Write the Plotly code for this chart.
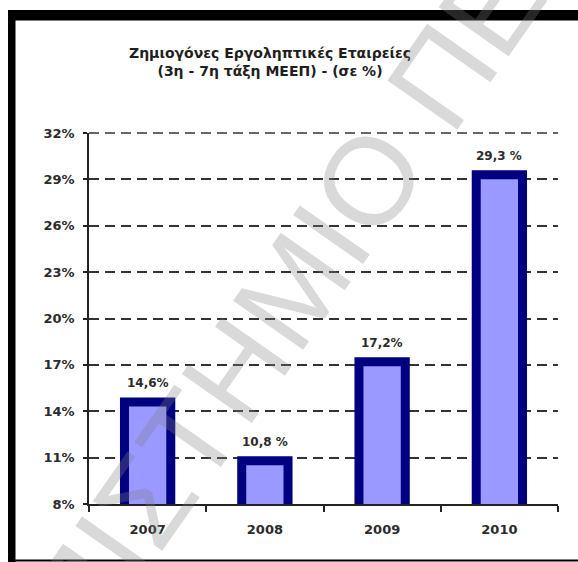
import plotly.graph_objects as go

# Data
years = ["2007", "2008", "2009", "2010"]
loss_pct = [14.6, 10.8, 17.2, 29.3]
value_labels = ["14,6%", "10,8 %", "17,2%", "29,3 %"]
y_ticks = [8, 11, 14, 17, 20, 23, 26, 29, 32]
y_tick_text = [f"{v}%" for v in y_ticks]

title_lines = ["Ζημιογόνες Εργοληπτικές Εταιρείες", "(3η - 7η τάξη ΜΕΕΠ) - (σε %)"]
watermark = "ΠΑΝΕΠΙΣΤΗΜΙΟ ΠΕΙΡΑΙΩΣ"

W, H = 578, 562
L, R, T, B = 89, 20, 133, 58
PW, PH = W - L - R, H - T - B
Y_RANGE = [y_ticks[0], y_ticks[-1]]


def px(x):
    return (x - L) / PW


def py(y):
    return (H - B - y) / PH


FONT = "DejaVu Sans"
TXT = "#2b2b2b"
GRID = dict(color="#333", width=1.5, dash="10px,6px")
pos = list(range(len(years)))

fig = go.Figure(
    go.Bar(
        x=pos,
        y=loss_pct,
        base=0,
        width=0.395,
        marker=dict(color="#9999FF", line=dict(color="#000080", width=9)),
        hoverinfo="skip",
    )
)

annotations = []
# value labels above each bar
for i, v, t in zip(pos, loss_pct, value_labels):
    annotations.append(dict(
        x=i, y=v, xref="x", yref="y", text=f"<b>{t}</b>", showarrow=False,
        yanchor="middle", yshift=19,
        font=dict(family=FONT, size=12, color=TXT),
    ))

# chart title
annotations.append(dict(
    x=px(270), y=py(62.5), xref="paper", yref="paper",
    text="<b>" + "<br>".join(title_lines) + "</b>", showarrow=False,
    xanchor="center", yanchor="middle", align="center",
    font=dict(family=FONT, size=14, color="#1e1e1e"),
))

# diagonal watermark
annotations.append(dict(
    x=px(298), y=py(282), xref="paper", yref="paper",
    text=watermark, showarrow=False, textangle=-55,
    xanchor="center", yanchor="middle",
    font=dict(family="Liberation Sans", size=124, color="rgba(128,128,128,0.3)"),
))

# top tick sits on the plot edge, where plotly leaves out the grid line
top_frac = (y_ticks[-1] - Y_RANGE[0]) / (Y_RANGE[1] - Y_RANGE[0])

shapes = [
    dict(type="line", xref="paper", yref="paper", x0=0, x1=1, y0=top_frac, y1=top_frac,
         line=GRID, layer="below"),
    # outer frame (thick top/left, thin bottom)
    dict(type="rect", xref="paper", yref="paper", x0=px(8), x1=px(15.5), y0=py(562), y1=py(10),
         fillcolor="black", line=dict(width=0), layer="above"),
    dict(type="rect", xref="paper", yref="paper", x0=px(8), x1=px(580), y0=py(20.5), y1=py(10),
         fillcolor="black", line=dict(width=0), layer="above"),
    dict(type="rect", xref="paper", yref="paper", x0=px(8), x1=px(580), y0=py(561.5), y1=py(559.5),
         fillcolor="black", line=dict(width=0), layer="above"),
]

fig.update_layout(
    width=W, height=H,
    margin=dict(l=L, r=R, t=T, b=B, pad=0),
    paper_bgcolor="white", plot_bgcolor="white",
    showlegend=False,
    annotations=annotations,
    shapes=shapes,
    xaxis=dict(
        range=[-0.5, len(years) - 0.5],
        tickvals=pos, ticktext=[f"<b>{y}</b>" for y in years],
        showgrid=False, zeroline=False,
        showline=True, linecolor="#222", linewidth=1.5,
        ticks="", ticklen=0,
        minor=dict(ticks="outside", tick0=0.5, dtick=1, ticklen=6, tickwidth=1.5,
                   tickcolor="#222", showgrid=False),
        tickfont=dict(family=FONT, size=13, color=TXT),
        ticklabelstandoff=13,
        fixedrange=True,
    ),
    yaxis=dict(
        range=Y_RANGE, tickvals=y_ticks, ticktext=[f"<b>{t}</b>" for t in y_tick_text],
        showgrid=True, gridcolor=GRID["color"], gridwidth=GRID["width"], griddash=GRID["dash"],
        zeroline=False, showline=True, linecolor="#222", linewidth=1.5,
        ticks="outside", ticklen=4, tickwidth=1.5, tickcolor="#222",
        tickfont=dict(family=FONT, size=13, color=TXT),
        ticklabelstandoff=6,
        fixedrange=True,
    ),
)

fig.write_html("out.html")
